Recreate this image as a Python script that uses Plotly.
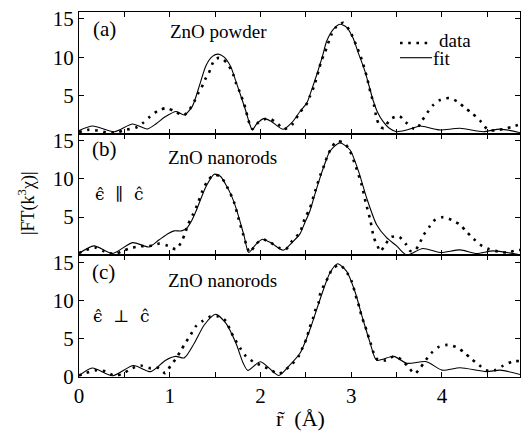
import plotly.graph_objects as go

# ---------------- data ----------------
# panel (a) ZnO powder
a_fit_r = [0, 0.15, 0.39, 0.59, 0.75, 0.85, 0.95, 1.07, 1.16, 1.25, 1.32, 1.40, 1.47, 1.535, 1.60, 1.67,
           1.73, 1.79, 1.84, 1.88, 1.91, 1.96, 2.04, 2.12, 2.25, 2.35, 2.435, 2.51, 2.56, 2.62, 2.68, 2.73,
           2.80, 2.875, 2.95, 3.02, 3.08, 3.15, 3.20, 3.24, 3.29, 3.35, 3.42, 3.50, 3.61, 3.76, 3.88, 3.98,
           4.20, 4.455, 4.64, 4.87]
a_fit_y = [0.4, 1.0, 0.26, 1.27, 0.61, 1.3, 2.2, 2.9, 2.45, 3.6, 6.0, 8.9, 10.1, 10.4, 10.0, 8.8,
           6.8, 4.7, 2.9, 1.3, 0.5, 1.3, 2.0, 1.6, 0.57, 1.5, 2.9, 4.0, 5.6, 7.7, 10.0, 12.1,
           13.6, 14.3, 13.9, 12.5, 10.5, 8.2, 6.1, 4.4, 2.8, 1.6, 0.7, 0.26, 0.48, 1.0, 0.7, 0.48,
           0.7, 0.26, 0.6, 0.1]
a_dat_r = [0, 0.10, 0.21, 0.30, 0.40, 0.51, 0.63, 0.70, 0.78, 0.87, 0.96, 1.06, 1.15, 1.22, 1.27, 1.31,
           1.35, 1.39, 1.43, 1.49, 1.54, 1.59, 1.65, 1.70, 1.73, 1.77, 1.81, 1.84, 1.86, 1.91, 1.98, 2.09,
           2.18, 2.26, 2.35, 2.435, 2.50, 2.545, 2.59, 2.64, 2.67, 2.71, 2.78, 2.83, 2.91, 2.985, 3.06, 3.115,
           3.17, 3.21, 3.25, 3.28, 3.32, 3.36, 3.43, 3.53, 3.60, 3.68, 3.72, 3.78, 3.84, 3.90, 3.98, 4.08,
           4.17, 4.25, 4.33, 4.42, 4.51, 4.60, 4.68, 4.77, 4.86]
a_dat_y = [0.2, 0.5, 0.4, 0.15, 0.1, 0.48, 0.8, 1.36, 2.2, 3.0, 3.33, 2.9, 2.37, 3.2, 4.2, 5.2,
           6.0, 7.1, 7.9, 9.6, 9.9, 9.7, 8.9, 7.7, 6.6, 5.5, 4.2, 3.1, 2.0, 0.6, 1.5, 2.0,
           1.4, 0.6, 1.2, 2.8, 3.7, 4.9, 6.2, 8.2, 9.5, 10.6, 12.9, 13.9, 14.5, 13.4, 11.4, 9.7,
           7.5, 5.5, 3.8, 2.0, 0.9, 0.7, 1.9, 2.3, 1.5, 0.7, 0.6, 1.7, 2.76, 3.7, 4.4, 4.65,
           4.2, 3.4, 2.7, 1.7, 0.48, 0.45, 0.6, 0.9, 1.2]

# panel (b) ZnO nanorods, e || c
b_fit_r = [0, 0.165, 0.37, 0.59, 0.77, 0.88, 0.99, 1.05, 1.13, 1.19, 1.24, 1.29, 1.35, 1.40, 1.49, 1.56,
           1.62, 1.68, 1.73, 1.78, 1.82, 1.87, 1.94, 2.02, 2.12, 2.25, 2.35, 2.435, 2.49, 2.545, 2.60, 2.655,
           2.71, 2.765, 2.875, 2.985, 3.08, 3.17, 3.28, 3.39, 3.50, 3.61, 3.79, 3.98, 4.20, 4.38, 4.565, 4.87]
b_fit_y = [0.24, 1.23, 0.24, 1.66, 1.1, 2.0, 2.9, 3.2, 3.2, 3.6, 4.5, 5.8, 7.6, 9.0, 10.6, 10.3,
           9.2, 7.8, 6.2, 4.2, 2.5, 0.37, 1.3, 2.1, 1.6, 0.67, 1.7, 2.8, 4.3, 5.8, 8.0, 10.1,
           12.0, 13.6, 14.7, 13.8, 11.0, 7.5, 4.0, 2.3, 1.23, 0.05, 0.9, 0.37, 0.71, 0.24, 0.58, 0.06]
b_dat_r = [0, 0.07, 0.18, 0.28, 0.39, 0.48, 0.57, 0.68, 0.77, 0.885, 0.98, 1.07, 1.13, 1.17, 1.20, 1.25,
           1.30, 1.36, 1.42, 1.49, 1.56, 1.63, 1.71, 1.76, 1.81, 1.85, 1.88, 1.95, 2.02, 2.11, 2.20, 2.28,
           2.35, 2.435, 2.49, 2.54, 2.60, 2.66, 2.70, 2.735, 2.78, 2.84, 2.92, 2.98, 3.05, 3.115, 3.16, 3.21,
           3.25, 3.29, 3.32, 3.38, 3.44, 3.53, 3.60, 3.65, 3.70, 3.75, 3.80, 3.86, 3.92, 4.015, 4.11, 4.20,
           4.27, 4.345, 4.44, 4.52, 4.62, 4.72, 4.82, 4.87]
b_dat_y = [0.3, 0.67, 1.0, 0.5, 0.15, 0.58, 0.93, 1.2, 1.2, 1.53, 1.24, 0.8, 1.8, 2.9, 4.0, 5.2,
           6.5, 8.4, 9.8, 10.5, 10.3, 9.0, 6.9, 4.7, 2.7, 1.2, 0.37, 1.45, 2.1, 1.66, 1.0, 0.8,
           1.9, 3.0, 4.9, 6.0, 8.3, 10.5, 11.7, 12.9, 14.0, 14.9, 14.7, 13.8, 11.6, 9.2, 6.9, 4.6,
           2.3, 1.23, 0.5, 1.5, 2.4, 2.4, 1.5, 0.58, 0.58, 1.5, 2.7, 3.7, 4.6, 5.0, 4.6, 4.0,
           3.1, 2.2, 1.23, 0.8, 0.5, 0.37, 0.67, 0.7]

# panel (c) ZnO nanorods, e perp c
c_fit_r = [0, 0.147, 0.37, 0.60, 0.79, 0.955, 1.065, 1.16, 1.27, 1.38, 1.505, 1.62, 1.73, 1.81, 1.86, 2.0,
           2.2, 2.31, 2.435, 2.545, 2.655, 2.765, 2.85, 2.95, 3.04, 3.13, 3.21, 3.28, 3.47, 3.61, 3.83, 4.0,
           4.2, 4.49, 4.64, 4.87]
c_fit_y = [0.17, 1.17, 0.17, 1.5, 0.7, 2.2, 2.7, 2.5, 4.4, 6.8, 8.2, 7.0, 4.4, 1.8, 0.87, 2.0,
           0.2, 1.4, 3.1, 6.2, 10.1, 13.6, 14.8, 13.8, 11.2, 7.5, 4.4, 2.2, 2.7, 1.8, 2.0, 0.9,
           1.2, 0.7, 0.9, 0.3]
c_dat_r = [0, 0.07, 0.18, 0.29, 0.39, 0.48, 0.59, 0.68, 0.77, 0.88, 0.95, 1.01, 1.065, 1.12, 1.175, 1.23,
           1.285, 1.36, 1.45, 1.54, 1.62, 1.67, 1.72, 1.78, 1.84, 1.92, 1.99, 2.10, 2.20, 2.28, 2.35, 2.42,
           2.47, 2.51, 2.54, 2.575, 2.60, 2.64, 2.66, 2.70, 2.75, 2.79, 2.875, 2.96, 3.005, 3.06, 3.09, 3.115,
           3.15, 3.18, 3.215, 3.24, 3.29, 3.38, 3.47, 3.555, 3.63, 3.70, 3.76, 3.82, 3.88, 3.96, 4.06, 4.16,
           4.245, 4.325, 4.41, 4.485, 4.58, 4.675, 4.77, 4.86]
c_dat_y = [0.2, 0.5, 0.87, 0.74, 0.17, 0.43, 1.17, 1.5, 1.17, 1.17, 0.5, 1.5, 2.35, 3.4, 4.5, 5.5,
           6.6, 7.3, 7.9, 7.9, 7.3, 6.0, 4.9, 3.7, 2.7, 2.0, 1.6, 1.0, 0.4, 1.0, 1.7, 2.7,
           4.0, 5.1, 6.4, 7.5, 8.6, 9.7, 11.0, 12.0, 13.1, 14.1, 14.65, 13.5, 12.5, 10.2, 9.1, 7.9,
           6.8, 5.65, 4.4, 3.35, 2.26, 2.17, 2.7, 2.26, 1.3, 0.43, 1.17, 2.17, 3.1, 3.9, 4.2, 3.9,
           3.2, 2.35, 1.56, 0.87, 0.87, 1.48, 2.0, 2.1]

x_major_ticks = [0, 1, 2, 3, 4]
x_minor_ticks = [0.5, 1.5, 2.5, 3.5, 4.5]
y_ticks_top = [5, 10, 15]
y_ticks_bottom = [0, 5, 10, 15]
panel_labels = ["(a)", "(b)", "(c)"]
sample_labels = ["ZnO powder", "ZnO nanorods", "ZnO nanorods"]
pol_labels = [None, "ϵ̂  ∥  ĉ", "ϵ̂  ⊥  ĉ"]

# ---------------- figure ----------------
W, H = 521, 436
L, R, T, B = 79, 1, 12, 59
SERIF = "Liberation Serif"

fig = go.Figure()
panels = [(a_fit_r, a_fit_y, a_dat_r, a_dat_y),
          (b_fit_r, b_fit_y, b_dat_r, b_dat_y),
          (c_fit_r, c_fit_y, c_dat_r, c_dat_y)]
for i, (fr, fy, dr, dy) in enumerate(panels):
    s = "" if i == 0 else str(i + 1)
    fig.add_trace(go.Scatter(x=dr, y=dy, mode="lines", name="data",
                             line=dict(color="black", width=2.6, dash="2.6px,5.6px",
                                       shape="spline", smoothing=0.7),
                             xaxis="x" + s, yaxis="y" + s, showlegend=False))
    fig.add_trace(go.Scatter(x=fr, y=fy, mode="lines", name="fit",
                             line=dict(color="black", width=1.1, shape="spline", smoothing=0.7),
                             xaxis="x" + s, yaxis="y" + s, showlegend=False))

domains = [[2 / 3, 1], [1 / 3, 2 / 3], [0, 1 / 3]]
layout = dict(width=W, height=H, margin=dict(l=L, r=R, t=T, b=B, autoexpand=False),
              paper_bgcolor="white", plot_bgcolor="white",
              font=dict(family=SERIF, color="black", size=20), showlegend=False)
tick_font = dict(family=SERIF, size=21, color="black")
for i in range(3):
    s = "" if i == 0 else str(i + 1)
    layout["xaxis" + s] = dict(domain=[0, 1], range=[0, 4.86], anchor="y" + s,
                               tickmode="array", tickvals=x_major_ticks,
                               showticklabels=(i == 2), ticks="inside", ticklen=5, tickwidth=1,
                               tickcolor="black", showline=True, linecolor="black", linewidth=1,
                               mirror="ticks", showgrid=False, zeroline=False, tickfont=tick_font,
                               minor=dict(tickmode="array", tickvals=x_minor_ticks, ticks="inside",
                                          ticklen=5, tickwidth=1, tickcolor="black", showgrid=False))
    layout["yaxis" + s] = dict(domain=domains[i], range=[0, 15.9], anchor="x" + s,
                               tickmode="array",
                               tickvals=(y_ticks_bottom if i == 2 else y_ticks_top),
                               ticks="inside", ticklen=5, tickwidth=1, tickcolor="black",
                               showline=True, linecolor="black", linewidth=1, mirror="ticks",
                               showgrid=False, zeroline=False, tickfont=tick_font)
fig.update_layout(**layout)


def P(px, py):
    return (px - L) / (W - L - R), (H - B - py) / (H - T - B)


ann = []


def add_text(txt, px, py, size, xanchor="center", angle=0, family=SERIF):
    x, y = P(px, py)
    ann.append(dict(text=txt, x=x, y=y, xref="paper", yref="paper", showarrow=False,
                    xanchor=xanchor, yanchor="middle", textangle=angle,
                    font=dict(family=family, size=size, color="black")))


label_pos = [(104, 29), (104, 149), (103, 272)]
sample_pos = [(218, 31), (222, 157), (222, 280)]
pol_pos = [None, (119, 194), (121, 316)]
for i in range(3):
    add_text(panel_labels[i], *label_pos[i], 21)
    add_text(sample_labels[i], *sample_pos[i], 19)
    if pol_labels[i]:
        add_text(pol_labels[i], *pol_pos[i], 17, family="DejaVu Serif")

# legend
add_text("data", 437, 40, 19, xanchor="left")
add_text("fit", 431, 58, 19, xanchor="left")
x0, yy = P(400, 43)
x1, _ = P(432, 43)
_, yy2 = P(0, 57.7)
shapes = [dict(type="line", xref="paper", yref="paper", x0=x0, x1=x1, y0=yy, y1=yy,
               line=dict(color="black", width=2.6, dash="2.6px,5.6px")),
          dict(type="line", xref="paper", yref="paper", x0=x0, x1=x1, y0=yy2, y1=yy2,
               line=dict(color="black", width=1.1))]

# axis titles
add_text("|FT(k<sup>3</sup>χ)|", 27, 203, 18, angle=-90)
add_text("r̃  (Å)", 300, 418, 22)

fig.update_layout(annotations=ann, shapes=shapes)
fig.write_html("out.html", config={"displayModeBar": False},
               post_script="document.body.style.margin='0';")
